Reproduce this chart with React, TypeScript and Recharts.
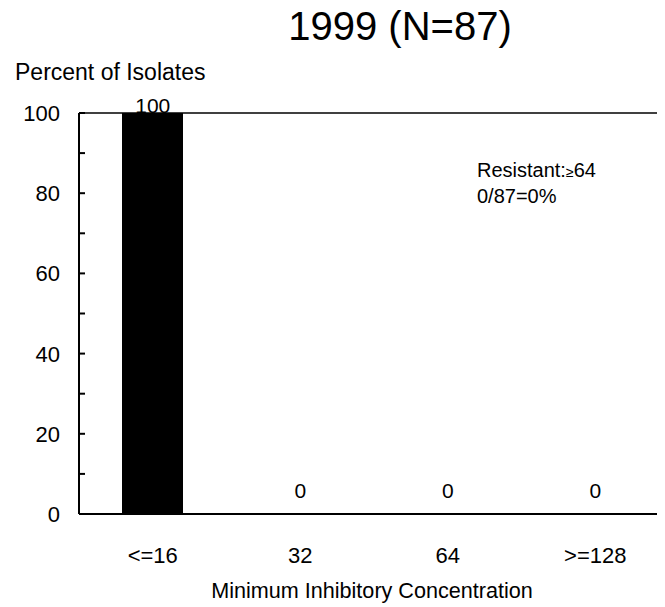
import { ComposedChart, Bar, Line, XAxis, YAxis, ReferenceLine, LabelList } from 'recharts';

const categories = ['<=16', '32', '64', '>=128'];
const percents = [100, 0, 0, 0];
const yTicks = [0, 10, 20, 30, 40, 50, 60, 70, 80, 90, 100];
const labeledTicks = [0, 20, 40, 60, 80, 100];

const data = categories.map((mic, i) => ({ mic, pct: percents[i] }));

const FONT = '"Liberation Sans", Arial, sans-serif';
const Y_MARGIN = 19;

function YTick(props: any) {
  const { x, y, payload } = props;
  const axisX = x + Y_MARGIN;
  return (
    <g>
      <line x1={axisX} x2={axisX + 6} y1={y} y2={y} stroke="#000" strokeWidth={2} />
      {labeledTicks.includes(payload.value) && (
        <text x={x} y={y} dy="0.36em" textAnchor="end" fontSize={22} fontFamily={FONT} fill="#000">
          {payload.value}
        </text>
      )}
    </g>
  );
}

function ValueLabel(props: any) {
  const { x, y, value } = props;
  // zero bars get their label lifted off the axis
  const lift = Number(value) === 0 ? 16 : 0;
  return (
    <text x={x} y={y - lift} textAnchor="middle" fontSize={21} fontFamily={FONT} fill="#000">
      {value}
    </text>
  );
}

export default function App() {
  return (
    <div style={{ position: 'relative', width: 657, height: 599, background: '#fff' }}>
      <div style={{ width: 657, height: 599, overflow: 'hidden' }}>
        <ComposedChart width={680} height={599} data={data} margin={{ top: 105, right: 19, bottom: 33, left: 0 }}>
          <XAxis
            dataKey="mic"
            axisLine={{ stroke: '#000', strokeWidth: 2 }}
            tickLine={false}
            tickSize={0}
            tickMargin={33}
            height={60}
            tick={{ fontSize: 22, fontFamily: FONT, fill: '#000' }}
          />
          <YAxis
            domain={[0, 100]}
            ticks={yTicks}
            interval={0}
            width={71}
            tickSize={0}
            tickMargin={Y_MARGIN}
            axisLine={{ stroke: '#000', strokeWidth: 2 }}
            tickLine={false}
            tick={<YTick />}
          />
          <ReferenceLine y={100} stroke="#000" strokeWidth={1.5} />
          <Bar dataKey="pct" fill="#000" barSize={61} isAnimationActive={false} />
          {/* invisible carrier for the value labels, so zero bars get one too */}
          <Line dataKey="pct" stroke="none" dot={false} activeDot={false} isAnimationActive={false}>
            <LabelList dataKey="pct" content={<ValueLabel />} />
          </Line>
        </ComposedChart>
      </div>
      {/* page-coordinate overlay for titles and the note */}
      <svg width={665} height={607} style={{ position: 'absolute', left: -8, top: -8, pointerEvents: 'none' }}>
        <text x={400} y={40} textAnchor="middle" fontSize={40} fontFamily={FONT} fill="#000">
          1999 (N=87)
        </text>
        <text x={15} y={80} fontSize={23} fontFamily={FONT} fill="#000">
          Percent of Isolates
        </text>
        <text x={477} y={177} fontSize={20} fontFamily={FONT} fill="#000">
          Resistant:<tspan fontSize={14}>≥</tspan>64
        </text>
        <text x={477} y={203} fontSize={20} fontFamily={FONT} fill="#000">
          0/87=0%
        </text>
        <text x={372} y={598} textAnchor="middle" fontSize={21.6} fontFamily={FONT} fill="#000">
          Minimum Inhibitory Concentration
        </text>
      </svg>
    </div>
  );
}
